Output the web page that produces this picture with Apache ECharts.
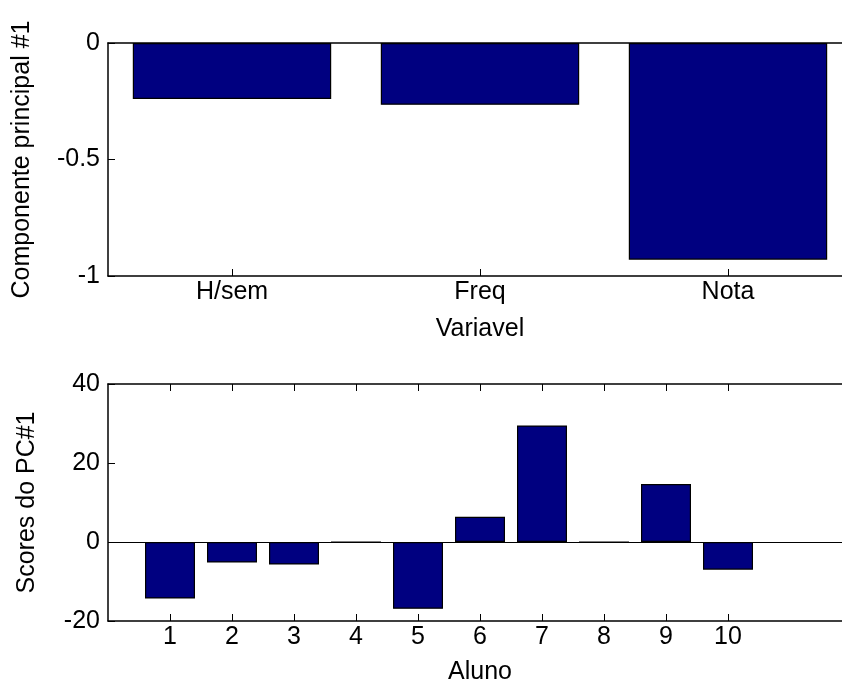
<!DOCTYPE html>
<html>
<head>
<meta charset="utf-8">
<script src="https://cdn.jsdelivr.net/npm/echarts@6/dist/echarts.min.js"></script>
<style>
  html, body { margin: 0; padding: 0; background: #fff; width: 842px; height: 681px; overflow: hidden; }
  /* a figura original esta cortada a direita: o canvas e um pouco mais largo que a janela */
  #wrap { position: relative; width: 842px; height: 681px; overflow: hidden; }
  #chart { position: absolute; left: 0; top: 0; width: 852px; height: 681px; }
</style>
</head>
<body>
<div id="wrap"><div id="chart"></div></div>
<script>
// dados do grafico de cima (componente principal #1)
var variaveis = ["H/sem", "Freq", "Nota"];
var pc1 = [-0.24, -0.265, -0.93];

// dados do grafico de baixo (scores por aluno)
var alunos = [1, 2, 3, 4, 5, 6, 7, 8, 9, 10];
var scores = [-14.3, -5.2, -5.7, 0, -16.9, 6.4, 29.5, 0, 14.7, -7.0];

var FONT = "Liberation Sans, Arial, sans-serif";
var FS = 25;
var barColor = "#000080";

var chart = echarts.init(document.getElementById("chart"));

var lineStyle = { color: "#000", width: 1.5 };
var tickStyle = { color: "#000", width: 1 };
var txt = { color: "#000", fontFamily: FONT, fontSize: FS };

chart.setOption({
  animation: false,
  grid: [
    // outerBoundsMode none: nao deixar o v6 encolher a area do grafico
    { left: 108, top: 43, height: 233, right: 0, outerBoundsMode: "none" },
    { left: 108, top: 384, height: 237, right: 0, outerBoundsMode: "none" }
  ],
  xAxis: [
    {
      // eixo das variaveis
      gridIndex: 0,
      type: "category",
      data: variaveis,
      boundaryGap: true,
      position: "bottom",
      axisLine: { onZero: false, lineStyle: lineStyle },
      axisTick: { show: true, inside: true, alignWithLabel: true, length: 7, lineStyle: tickStyle },
      axisLabel: Object.assign({ margin: 4 }, txt),
      name: "Variavel",
      nameLocation: "middle",
      nameGap: 41,
      nameTextStyle: txt,
      splitLine: { show: false }
    },
    {
      // linha de cima (box)
      gridIndex: 0,
      type: "category",
      data: variaveis,
      boundaryGap: true,
      position: "top",
      axisLine: { onZero: false, lineStyle: lineStyle },
      axisTick: { show: true, inside: true, alignWithLabel: true, length: 7, lineStyle: tickStyle },
      axisLabel: { show: false },
      splitLine: { show: false }
    },
    {
      // eixo dos alunos
      gridIndex: 1,
      type: "value",
      min: 0,
      max: 12,
      interval: 1,
      position: "bottom",
      axisLine: { onZero: false, lineStyle: lineStyle },
      axisTick: { show: true, inside: true, length: 7, customValues: alunos, lineStyle: tickStyle },
      axisLabel: Object.assign({ margin: 4, customValues: alunos }, txt),
      name: "Aluno",
      nameLocation: "middle",
      nameGap: 39,
      nameTextStyle: txt,
      splitLine: { show: false }
    },
    {
      gridIndex: 1,
      type: "value",
      min: 0,
      max: 12,
      interval: 1,
      position: "top",
      axisLine: { onZero: false, lineStyle: lineStyle },
      axisTick: { show: true, inside: true, length: 7, customValues: alunos, lineStyle: tickStyle },
      axisLabel: { show: false },
      splitLine: { show: false }
    }
  ],
  yAxis: [
    {
      gridIndex: 0,
      type: "value",
      min: -1,
      max: 0,
      interval: 0.5,
      axisLine: { show: true, onZero: false, lineStyle: lineStyle },
      axisTick: { show: true, inside: true, length: 7, lineStyle: tickStyle },
      axisLabel: Object.assign({ margin: 8 }, txt),
      splitLine: { show: false },
      name: "Componente principal #1",
      nameLocation: "middle",
      nameRotate: 90,
      nameGap: 73,
      nameTextStyle: txt
    },
    {
      gridIndex: 1,
      type: "value",
      min: -20,
      max: 40,
      interval: 20,
      axisLine: { show: true, onZero: false, lineStyle: lineStyle },
      axisTick: { show: true, inside: true, length: 7, lineStyle: tickStyle },
      axisLabel: Object.assign({ margin: 8 }, txt),
      splitLine: { show: false },
      name: "Scores do PC#1",
      nameLocation: "middle",
      nameRotate: 90,
      nameGap: 68,
      nameTextStyle: txt
    }
  ],
  series: [
    {
      type: "bar",
      xAxisIndex: 0,
      yAxisIndex: 0,
      data: pc1,
      barWidth: "80%",
      itemStyle: { color: barColor, borderColor: "#000", borderWidth: 1.2 }
    },
    {
      type: "bar",
      xAxisIndex: 2,
      yAxisIndex: 1,
      data: alunos.map(function (a, i) { return [a, scores[i]]; }),
      barWidth: 50,
      itemStyle: { color: barColor, borderColor: "#000", borderWidth: 1.2 },
      markLine: {
        silent: true,
        symbol: "none",
        label: { show: false },
        lineStyle: { color: "#000", width: 1.2, type: "solid" },
        data: [{ yAxis: 0 }]
      }
    }
  ]
});
</script>
</body>
</html>
